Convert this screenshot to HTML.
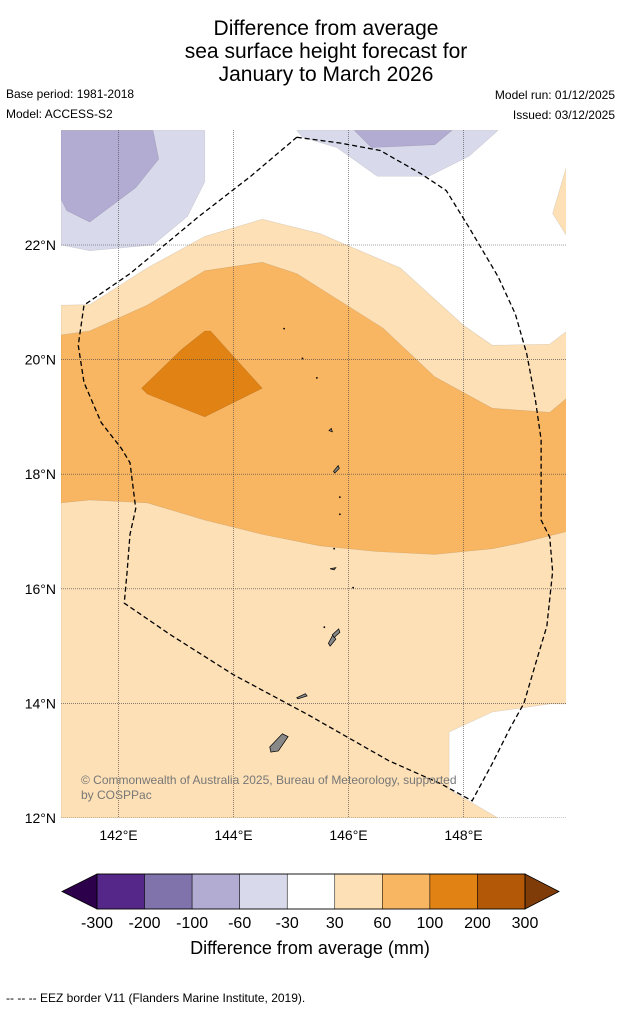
<!DOCTYPE html>
<html><head><meta charset="utf-8"><style>
body{margin:0;background:#fff;font-family:"Liberation Sans",sans-serif;}
#wrap{position:relative;width:621px;height:1011px;overflow:hidden;}
</style></head><body>
<div id="wrap">
<svg id="svg" width="621" height="1011" xmlns="http://www.w3.org/2000/svg" font-family="Liberation Sans, sans-serif">
<g font-size="21" text-anchor="middle" fill="#000">
<text x="326" y="35">Difference from average</text>
<text x="326" y="58">sea surface height forecast for</text>
<text x="326" y="81">January to March 2026</text>
</g>
<text x="6" y="98" font-size="12">Base period: 1981-2018</text>
<text x="6" y="118" font-size="12">Model: ACCESS-S2</text>
<text x="615" y="99" font-size="12" text-anchor="end">Model run: 01/12/2025</text>
<text x="615" y="119" font-size="12" text-anchor="end">Issued: 03/12/2025</text>
<clipPath id="mc"><rect x="61" y="130" width="505" height="688"/></clipPath>
<g id="map" clip-path="url(#mc)"></g>
<g id="axes"></g>
<text x="81" y="784" font-size="12" fill="#777">© Commonwealth of Australia 2025, Bureau of Meteorology, supported</text>
<text x="81" y="799" font-size="12" fill="#777">by COSPPac</text>
<g id="cbar"></g>
<text x="310" y="954" font-size="18" text-anchor="middle">Difference from average (mm)</text>
<text x="6" y="1002" font-size="12">--  --  -- EEZ border V11 (Flanders Marine Institute, 2019).</text>
</svg>
</div>
<script>
const NS="http://www.w3.org/2000/svg";
const lonTicks=[142,144,146,148];
const latTicks=[12,14,16,18,20,22];
const cbLabels=["-300","-200","-100","-60","-30","30","60","100","200","300"];
const cbColors=["#542788","#8073ac","#b2abd2","#d8daeb","#ffffff","#fde0b6","#f9b662","#e08214","#b35806"];
const regLightPurpleA=[[141,24],[143.5,24],[143.5,23.1],[143.2,22.5],[142.6,22],[141.5,21.9],[141,22]];
const regPurpleA=[[141,24],[142.6,24],[142.7,23.5],[142.3,23],[141.5,22.4],[141.1,22.6],[141,22.8]];
const regLightPurpleB=[[145.1,24],[145.2,23.88],[145.8,23.7],[146.5,23.2],[147.4,23.2],[148.1,23.55],[148.6,24]];
const regPurpleB=[[146.1,24],[146.4,23.7],[147.5,23.75],[147.8,24]];
const regPeachTR=[[149.8,23.4],[149.55,22.55],[149.8,22.15]];
const regPeach=[[141,20.95],[141.5,20.96],[142.5,21.6],[143.5,22.15],[144.5,22.45],[145.5,22.2],[146.9,21.6],[148,20.6],[148.5,20.25],[149.5,20.27],[149.8,20.5],[149.8,12],[141,12]];
const regOrange=[[141,20.43],[141.5,20.5],[142.5,20.95],[143.5,21.55],[144.5,21.7],[145.1,21.5],[146.6,20.55],[147.5,19.7],[148.5,19.15],[149.5,19.08],[149.8,19.33],[149.8,17.0],[149,16.8],[148.5,16.7],[147.5,16.6],[146.5,16.65],[145.5,16.75],[144.5,16.95],[143.5,17.2],[142.5,17.5],[141.5,17.55],[141,17.5]];
const regDarkOrange=[[142.4,19.5],[143.1,20.18],[143.5,20.5],[143.6,20.5],[144.5,19.5],[143.5,19.0],[142.5,19.4]];
const regWhiteBR=[[149.8,13.99],[149.5,13.99],[148.5,13.85],[147.75,13.5],[147.75,12.5],[148.6,12],[149.8,12]];
const eez=[[145.1,23.88],[145.85,23.78],[146.55,23.65],[147.25,23.25],[147.7,22.95],[148.1,22.3],[148.6,21.45],[148.9,20.8],[149.1,20.1],[149.25,19.3],[149.35,18.6],[149.35,17.2],[149.5,16.9],[149.55,16.3],[149.45,15.35],[149.3,14.85],[149.05,14.0],[148.8,13.55],[148.5,12.95],[148.15,12.3],[147.6,12.6],[146.7,13.0],[145.3,13.8],[144.0,14.5],[142.9,15.2],[142.1,15.75],[142.15,16.3],[142.2,16.95],[142.3,17.4],[142.2,18.2],[142.05,18.45],[141.7,18.9],[141.4,19.6],[141.3,20.25],[141.4,20.95],[142.2,21.5],[143.4,22.5],[144.3,23.2],[145.1,23.88]];
const islands=[[[144.63,13.24],[144.85,13.47],[144.95,13.42],[144.78,13.17],[144.65,13.15]],[[145.1,14.1],[145.25,14.17],[145.28,14.13],[145.12,14.08]],[[145.65,15.05],[145.73,15.2],[145.78,15.12],[145.68,15.0]],[[145.72,15.2],[145.83,15.3],[145.85,15.24],[145.75,15.15]],[[145.68,16.35],[145.78,16.37],[145.75,16.33]],[[145.74,18.05],[145.82,18.15],[145.84,18.1],[145.76,18.02]],[[145.66,18.76],[145.7,18.8],[145.72,18.74]]];
const dots=[[144.88,20.54],[145.2,20.02],[145.45,19.68],[145.85,17.6],[145.85,17.3],[145.75,16.7],[146.08,16.02],[145.58,15.33]];

const X=lon=>61+(lon-141)*57.5;
const Y=lat=>818-(lat-12)*57.3;
function el(tag,attrs,parent){const e=document.createElementNS(NS,tag);for(const k in attrs)e.setAttribute(k,attrs[k]);parent.appendChild(e);return e;}
const map=document.getElementById('map');
function poly(pts,fill,name){
  const p=el('polygon',{points:pts.map(q=>X(q[0])+','+Y(q[1])).join(' '),fill:fill,stroke:'rgba(0,0,0,0.12)','stroke-width':0.6},map);
  
  
}
poly(regPeach,"#fde0b6","region-30-60");
poly(regOrange,"#f9b662","region-60-100");
poly(regDarkOrange,"#e08214","region-100-200");
poly(regWhiteBR,"#ffffff","region-neutral-se");
poly(regLightPurpleA,"#d8daeb","region-neg30-60-west");
poly(regPurpleA,"#b2abd2","region-neg60-100-west");
poly(regLightPurpleB,"#d8daeb","region-neg30-60-north");
poly(regPurpleB,"#b2abd2","region-neg60-100-north");
poly(regPeachTR,"#fde0b6","region-30-60-ne");
lonTicks.forEach(v=>{const l=el('line',{x1:X(v),x2:X(v),y1:130,y2:818,stroke:'#444','stroke-width':0.6,'stroke-dasharray':'1,1'},map);});
latTicks.forEach(v=>{const l=el('line',{x1:61,x2:566,y1:Y(v),y2:Y(v),stroke:'#444','stroke-width':0.6,'stroke-dasharray':'1,1'},map);});
islands.forEach(s=>{const p=el('polygon',{points:s.map(q=>X(q[0])+','+Y(q[1])).join(' '),fill:'#888',stroke:'#000','stroke-width':0.7},map);});
dots.forEach(d=>{const c=el('circle',{cx:X(d[0]),cy:Y(d[1]),r:0.9,fill:'#000'},map);});
const ez=el('polyline',{points:eez.map(q=>X(q[0])+','+Y(q[1])).join(' '),fill:'none',stroke:'#000','stroke-width':1.3,'stroke-dasharray':'5,3'},map);


const ax=document.getElementById('axes');
lonTicks.forEach(v=>{const t=el('text',{x:X(v),y:840,'font-size':14,'text-anchor':'middle'},ax);t.textContent=v+'°E';});
latTicks.forEach(v=>{const t=el('text',{x:56,y:Y(v)+5,'font-size':14,'text-anchor':'end'},ax);t.textContent=v+'°N';});
const cb=document.getElementById('cbar');
const x0=97,x1=525,y0=874,y1=909,w=(x1-x0)/cbColors.length;
const lt=el('polygon',{points:`62,891.5 ${x0},${y0} ${x0},${y1}`,fill:'#2d004b',stroke:'#000','stroke-width':0.8},cb);

const rt=el('polygon',{points:`559,891.5 ${x1},${y0} ${x1},${y1}`,fill:'#7f3b08',stroke:'#000','stroke-width':0.8},cb);

cbColors.forEach((c,i)=>{const r=el('rect',{x:x0+i*w,y:y0,width:w,height:y1-y0,fill:c,stroke:'#000','stroke-width':0.5},cb);});
el('rect',{x:x0,y:y0,width:x1-x0,height:y1-y0,fill:'none',stroke:'#000','stroke-width':0.8},cb);
cbLabels.forEach((s,i)=>{const t=el('text',{x:x0+i*w,y:928,'font-size':16,'text-anchor':'middle'},cb);t.textContent=s;});
</script>
</body></html>
